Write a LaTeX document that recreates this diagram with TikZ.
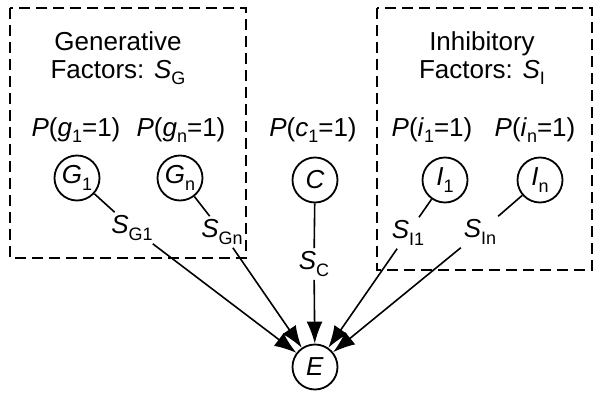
\documentclass[tikz,border=0pt]{standalone}
\usepackage{fontspec}
\setmainfont{Liberation Sans}
\usetikzlibrary{arrows.meta}
\newcommand{\sbx}[1]{\raisebox{-0.45ex}{\fontsize{18}{18}\selectfont #1}}
\newcommand{\vr}[1]{\textit{#1}}
\begin{document}
\begin{tikzpicture}[x=1pt,y=-1pt,
    font=\fontsize{26}{28}\selectfont,
    varnode/.style={circle, draw=black, line width=1.8pt, minimum size=45pt, inner sep=0pt},
    facbox/.style={draw=black, line width=1.8pt, dash pattern=on 11pt off 6pt},
    directed/.style={-{Latex[length=22pt,width=16pt]}, line width=1.6pt},
    link/.style={line width=1.6pt}
]
    \useasboundingbox (0,0) rectangle (602,403);

    % Boxes
    \draw[facbox] (10,8) rectangle (246,258);
    \draw[facbox] (377,8) rectangle (592,270);
    \node (gentitle) at (118,58) [align=center] {Generative\\[0pt]Factors: \vr{S}\sbx{G}};
    \node (inhtitle) at (482,58) [align=center] {Inhibitory\\[0pt]Factors: \vr{S}\sbx{I}};

    % Nodes
    \node[varnode] (G1) at (77,178) {\vr{G}\sbx{1}};
    \node[varnode] (Gn) at (180,178) {\vr{G}\sbx{n}};
    \node[varnode] (C) at (315,180) {\vr{C}};
    \node[varnode] (I1) at (445,180) {\vr{I}\sbx{1}};
    \node[varnode] (In) at (540,180) {\vr{I}\sbx{n}};
    \node[varnode] (E) at (315,367) {\vr{E}};

    % Priors
    \node (pg1) at (76,130) {\vr{P}(\vr{g}\sbx{1}=1)};
    \node (pgn) at (181,130) {\vr{P}(\vr{g}\sbx{n}=1)};
    \node (pc1) at (313,130) {\vr{P}(\vr{c}\sbx{1}=1)};
    \node (pi1) at (432,130) {\vr{P}(\vr{i}\sbx{1}=1)};
    \node (pin) at (535,130) {\vr{P}(\vr{i}\sbx{n}=1)};

    % Strengths
    \node (sg1) at (132,228) {\vr{S}\sbx{G1}};
    \node (sgn) at (222,232) {\vr{S}\sbx{Gn}};
    \node (sc) at (314,264) {\vr{S}\sbx{C}};
    \node (si1) at (408,233) {\vr{S}\sbx{I1}};
    \node (sin) at (480,232) {\vr{S}\sbx{In}};

    % Links
    \draw[link] (G1) -- (sg1);
    \draw[link] (Gn) -- (sgn);
    \draw[link] (C) -- (sc);
    \draw[link] (I1) -- (si1);
    \draw[link] (In) -- (sin);

    % Arrows into E
    \draw[directed] (sg1) -- (E);
    \draw[directed] (sgn) -- (E);
    \draw[directed] (sc) -- (E);
    \draw[directed] (si1) -- (E);
    \draw[directed] (sin) -- (E);
\end{tikzpicture}
\end{document}
